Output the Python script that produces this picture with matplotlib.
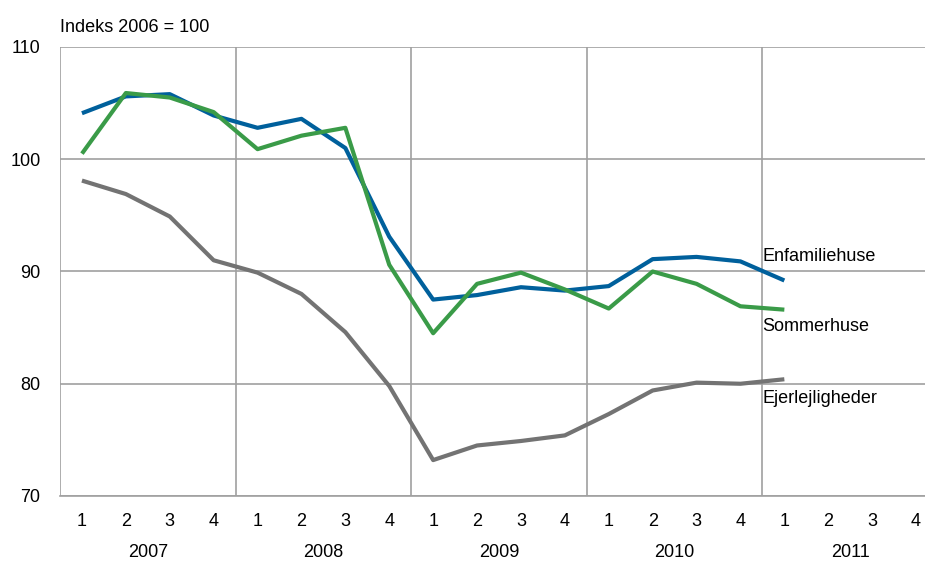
import matplotlib
matplotlib.use("Agg")
import matplotlib.pyplot as plt
import matplotlib.transforms as mtransforms

plt.rcParams['font.family'] = ['Liberation Sans', 'DejaVu Sans']

years = ["2007", "2008", "2009", "2010", "2011"]
quarters = ["1", "2", "3", "4"]

enfamiliehuse = [104.1, 105.6, 105.8, 103.9, 102.8, 103.6, 101.0, 93.1,
                 87.5, 87.9, 88.6, 88.3, 88.7, 91.1, 91.3, 90.9, 89.2]
sommerhuse = [100.5, 105.9, 105.5, 104.2, 100.9, 102.1, 102.8, 90.6,
              84.5, 88.9, 89.9, 88.4, 86.7, 90.0, 88.9, 86.9, 86.6]
ejerlejligheder = [98.1, 96.9, 94.9, 91.0, 89.9, 88.0, 84.6, 79.8,
                   73.2, 74.5, 74.9, 75.4, 77.3, 79.4, 80.1, 80.0, 80.4]

blue = "#00609c"
green = "#3a9b48"
grey = "#737373"
gridc = "#a0a0a0"
fs = 13

fig = plt.figure(figsize=(9.25, 5.61), dpi=100)
ax = fig.add_axes([60 / 925, 1 - 496 / 561, 878 / 925, (496 - 47) / 561])

x = list(range(len(enfamiliehuse)))
ax.plot(x, ejerlejligheder, color=grey, lw=3, solid_capstyle="butt", zorder=3)
ax.plot(x, enfamiliehuse, color=blue, lw=3, solid_capstyle="butt", zorder=4)
ax.plot(x, sommerhuse, color=green, lw=3, solid_capstyle="butt", zorder=5)

ax.set_xlim(-0.5, len(years) * 4 - 0.5)
ax.set_ylim(70, 110)
ax.set_yticks([70, 80, 90, 100, 110])
ax.set_xticks(range(len(years) * 4))
ax.set_xticklabels(quarters * len(years))
ax.set_xticks([i * 4 - 0.5 for i in range(len(years))], minor=True)
ax.tick_params(axis="both", which="both", length=0, labelsize=fs)
ax.tick_params(axis="x", pad=12)
ax.tick_params(axis="y", pad=14)

ax.grid(False)
ax.yaxis.grid(True, color=gridc, lw=1.2)
ax.xaxis.grid(True, which="minor", color=gridc, lw=1.2)
for s in ["top", "right", "left"]:
    ax.spines[s].set_visible(False)
ax.spines["bottom"].set_color(gridc)
ax.spines["bottom"].set_linewidth(1.2)
ax.set_axisbelow(True)

trans = mtransforms.blended_transform_factory(ax.transData, ax.transAxes)
for i, y in enumerate(years):
    ax.text(i * 4 + 1.5, -0.125, y, transform=trans, ha="center", va="center", fontsize=fs)

# series labels next to the line ends
ax.text(15.5, 90.6, "Enfamiliehuse", ha="left", va="bottom", fontsize=fs)
ax.text(15.5, 85.9, "Sommerhuse", ha="left", va="top", fontsize=fs)
ax.text(15.5, 79.4, "Ejerlejligheder", ha="left", va="top", fontsize=fs)

fig.text(60 / 925, 1 - 27 / 561, "Indeks 2006 = 100", ha="left", va="center", fontsize=fs)

fig.savefig("out.png", dpi=100)
